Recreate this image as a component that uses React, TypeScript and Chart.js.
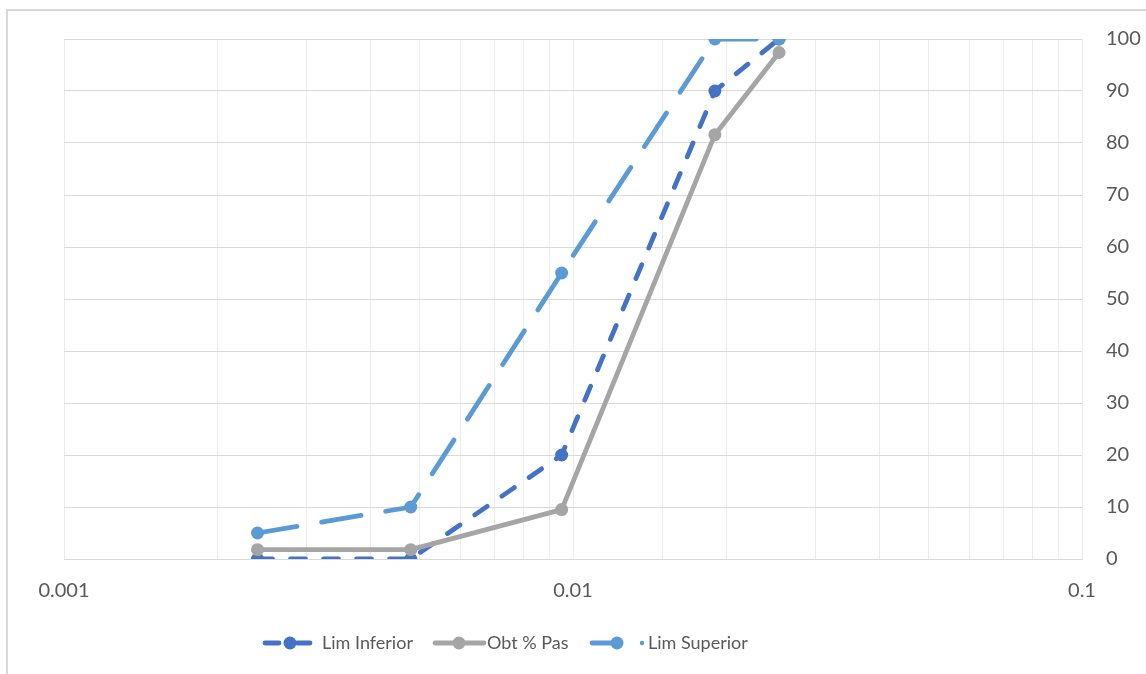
import React, { useEffect, useRef } from "react";
import { Chart, registerables } from "chart.js";

Chart.register(...registerables);

const sieveSizes = [0.0024, 0.0048, 0.0095, 0.019, 0.0254];
const limInferior = [0, 0, 20, 90, 100];
const obtPasa = [1.8, 1.8, 9.5, 81.6, 97.4];
const limSuperior = [5, 10, 55, 100, 100];
const seriesNames = ["Lim Inferior", "Obt % Pas", "Lim Superior"];
const xMin = 0.001;
const xMax = 0.1;
const yTicks = [0, 10, 20, 30, 40, 50, 60, 70, 80, 90, 100];

const C_INF = "#4472c4";
const C_OBT = "#a5a5a5";
const C_SUP = "#5b9bd5";
const TEXT = "#595959";
const FONT = "Lato, 'Open Sans', sans-serif";

const toPoints = (ys: number[]) => sieveSizes.map((x, i) => ({ x, y: ys[i] }));

const framePlugin = {
  id: "frame",
  beforeDraw(chart: any) {
    const ctx = chart.ctx;
    ctx.save();
    ctx.fillStyle = "#ffffff";
    ctx.fillRect(0, 0, chart.width, chart.height);
    ctx.strokeStyle = "#d9d9d9";
    ctx.lineWidth = 2;
    ctx.strokeRect(7, 10, chart.width + 20, chart.height + 20);
    ctx.restore();
  },
};

const legendPlugin = {
  id: "customLegend",
  afterDraw(chart: any) {
    const ctx = chart.ctx;
    const y = 643;
    ctx.save();
    ctx.lineCap = "round";
    ctx.lineWidth = 4.8;
    const marker = (x: number, c: string) => {
      ctx.beginPath();
      ctx.fillStyle = c;
      ctx.arc(x, y, 6.5, 0, Math.PI * 2);
      ctx.fill();
    };
    const seg = (a: number, b: number, c: string) => {
      ctx.beginPath();
      ctx.strokeStyle = c;
      ctx.moveTo(a, y);
      ctx.lineTo(b, y);
      ctx.stroke();
    };
    // Lim Inferior
    seg(265, 279, C_INF);
    seg(297, 310, C_INF);
    marker(290, C_INF);
    // Obt % Pas
    seg(435, 484, C_OBT);
    marker(459, C_OBT);
    // Lim Superior
    seg(592, 617, C_SUP);
    marker(617, C_SUP);
    ctx.beginPath();
    ctx.fillStyle = C_SUP;
    ctx.arc(642, y, 2.2, 0, Math.PI * 2);
    ctx.fill();

    ctx.fillStyle = TEXT;
    ctx.font = `18px ${FONT}`;
    ctx.textBaseline = "middle";
    ctx.textAlign = "left";
    ctx.fillText(seriesNames[0], 322, y);
    ctx.fillText(seriesNames[1], 487, y);
    ctx.fillText(seriesNames[2], 648, y);
    ctx.restore();
  },
};

export default function App() {
  const ref = useRef<HTMLCanvasElement>(null);
  useEffect(() => {
    if (!ref.current) return;
    const chart = new Chart(ref.current, {
      type: "line",
      data: {
        datasets: [
          {
            label: seriesNames[0],
            data: toPoints(limInferior),
            borderColor: C_INF,
            backgroundColor: C_INF,
            borderWidth: 4.8,
            borderDash: [15, 18],
            borderCapStyle: "round",
            pointRadius: 6.5,
            pointBorderWidth: 0,
            pointBackgroundColor: C_INF,
            order: 3,
          },
          {
            label: seriesNames[1],
            data: toPoints(obtPasa),
            borderColor: C_OBT,
            backgroundColor: C_OBT,
            borderWidth: 4.8,
            borderCapStyle: "round",
            borderJoinStyle: "round",
            pointRadius: 6.5,
            pointBorderWidth: 0,
            pointBackgroundColor: C_OBT,
            order: 2,
          },
          {
            label: seriesNames[2],
            data: toPoints(limSuperior),
            borderColor: C_SUP,
            backgroundColor: C_SUP,
            borderWidth: 4.8,
            borderDash: [40, 25],
            borderCapStyle: "round",
            pointRadius: 6.5,
            pointBorderWidth: 0,
            pointBackgroundColor: C_SUP,
            order: 1,
          },
        ] as any,
      },
      options: {
        animation: false,
        responsive: false,
        devicePixelRatio: 1,
        layout: { padding: { left: 64, top: 39, right: 0, bottom: 0 } },
        plugins: {
          legend: { display: false },
          tooltip: { enabled: false },
        },
        scales: {
          x: {
            type: "logarithmic",
            min: xMin,
            max: xMax,
            afterFit: (s: any) => {
              s.height = 115;
            },
            grid: { color: "#ececec", lineWidth: 1, drawTicks: false },
            border: { display: true, color: "#d9d9d9" },
            ticks: {
              autoSkip: false,
              maxRotation: 0,
              padding: 20,
              color: TEXT,
              font: { family: FONT, size: 20 },
              callback: (v: any) => {
                const l = Math.log10(Number(v));
                return Math.abs(l - Math.round(l)) < 1e-9 ? String(Number(v)) : "";
              },
            },
          },
          y: {
            position: "right",
            min: 0,
            max: 100,
            afterFit: (s: any) => {
              s.width = 64;
            },
            afterBuildTicks: (s: any) => {
              s.ticks = yTicks.map((v) => ({ value: v }));
            },
            grid: { color: "#d9d9d9", lineWidth: 1, drawTicks: false },
            border: { display: false },
            ticks: {
              padding: 24,
              color: TEXT,
              font: { family: FONT, size: 20 },
            },
          },
        },
      },
      plugins: [framePlugin, legendPlugin],
    });
    return () => chart.destroy();
  }, []);
  return (
    <canvas
      ref={ref}
      width={1146}
      height={674}
      style={{ position: "fixed", left: 0, top: 0, width: 1146, height: 674 }}
    />
  );
}
